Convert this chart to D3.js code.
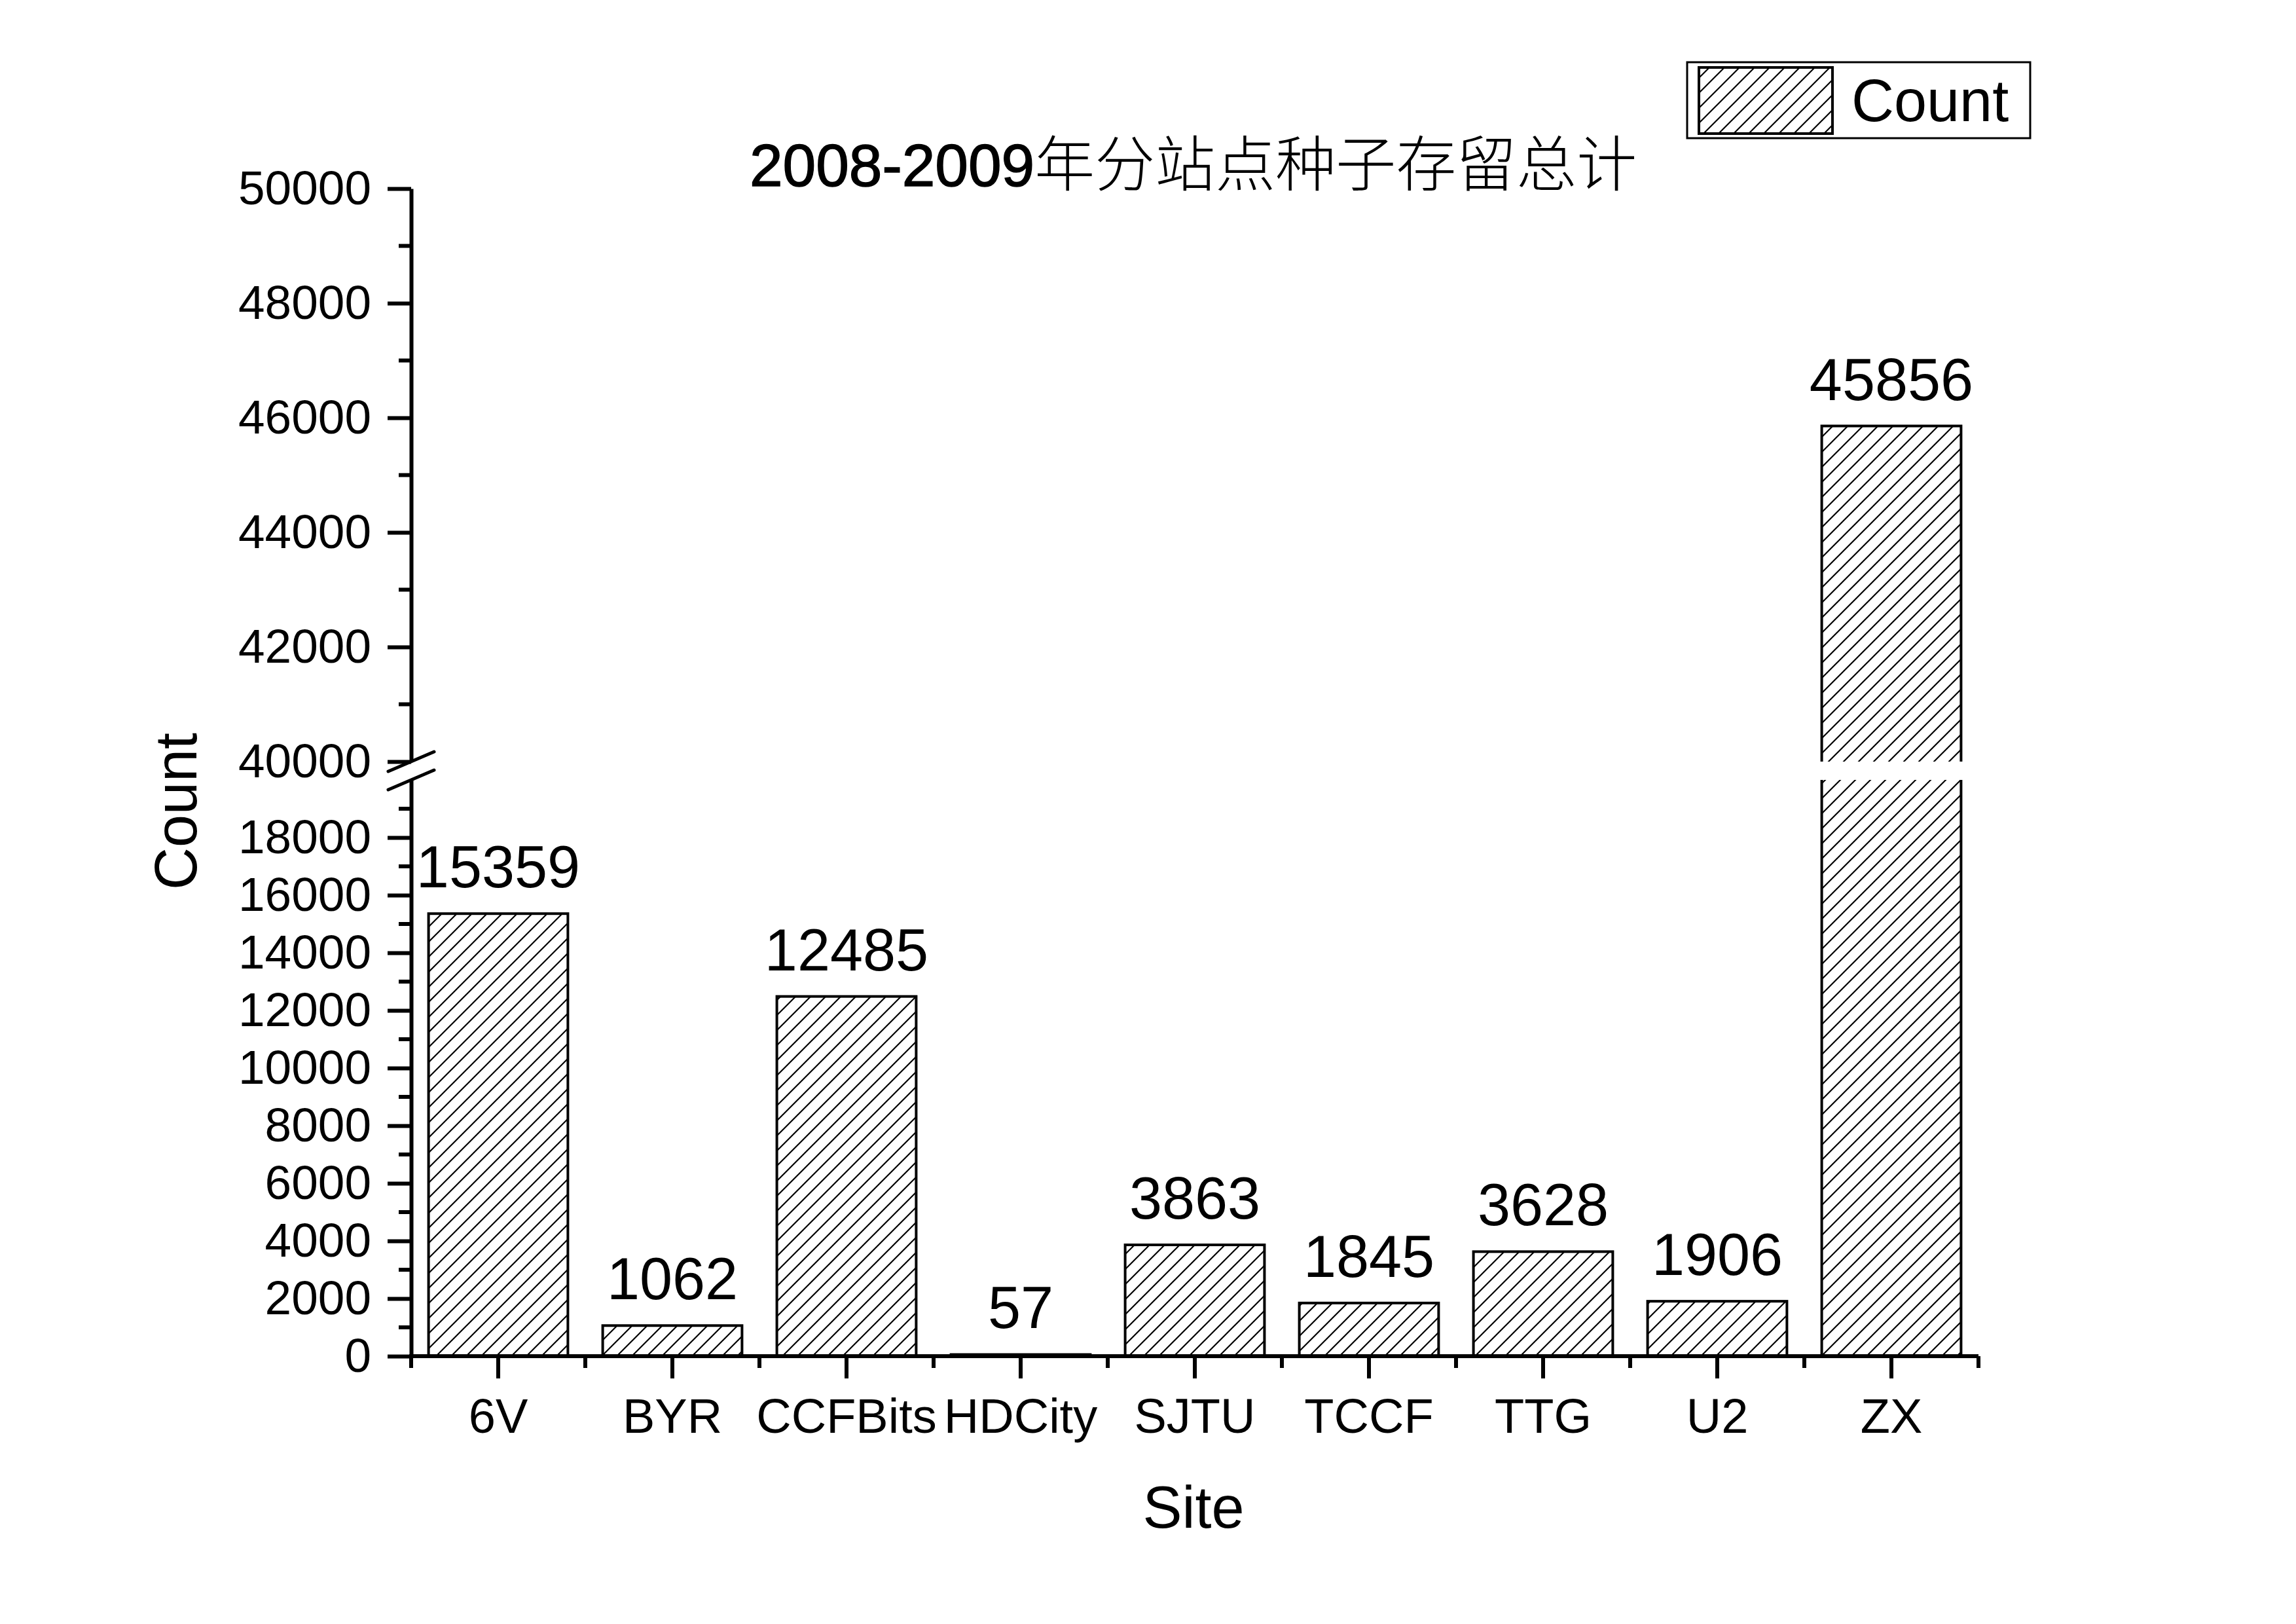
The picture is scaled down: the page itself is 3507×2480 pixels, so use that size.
<!DOCTYPE html>
<html>
<head>
<meta charset="utf-8">
<script src="https://cdn.jsdelivr.net/npm/d3@7"></script>
<style>
  html, body { margin: 0; padding: 0; background: #fff; }
  svg { display: block; }
</style>
</head>
<body>
<script>
// ---- data ----
const categories = ["6V", "BYR", "CCFBits", "HDCity", "SJTU", "TCCF", "TTG", "U2", "ZX"];
const counts = [15359, 1062, 12485, 57, 3863, 1845, 3628, 1906, 45856];
const lowerTicks = [0, 2000, 4000, 6000, 8000, 10000, 12000, 14000, 16000, 18000];
const upperTicks = [40000, 42000, 44000, 46000, 48000, 50000];
const titleNum = "2008-2009";
const titleCJK = "年分站点种子存留总计";
const seriesName = "Count";
const xTitle = "Site";
const yTitle = "Count";

const W = 3507, H = 2480;
const FONT = "'Liberation Sans', Arial, sans-serif";

const svg = d3.select("body").append("svg")
  .attr("width", W).attr("height", H)
  .style("font-family", FONT);

svg.append("rect").attr("width", W).attr("height", H).attr("fill", "#fff");

// hatch pattern
const defs = svg.append("defs");
const hs = 23;
const pat = defs.append("pattern")
  .attr("id", "hatch").attr("patternUnits", "userSpaceOnUse")
  .attr("width", hs).attr("height", hs);
pat.append("path")
  .attr("d", `M-2,2 L2,-2 M0,${hs} L${hs},0 M${hs-2},${hs+2} L${hs+2},${hs-2}`)
  .attr("stroke", "#000").attr("stroke-width", 2.2).attr("fill", "none");

// scales
const x = d3.scaleBand().domain(categories).range([628, 3022]).paddingInner(0.2).paddingOuter(0.1);
const yLow = d3.scaleLinear().domain([0, 20000]).range([2071, 1191]);
const yHigh = d3.scaleLinear().domain([40000, 50000]).range([1163, 288]);
const breakLow = 20000, breakHigh = 40000;

// bars
const bars = svg.append("g");
categories.forEach((c, i) => {
  const v = counts[i];
  const x0 = x(c), bw = x.bandwidth(), x1 = x0 + bw;
  if (v <= breakLow) {
    const yt = yLow(v);
    bars.append("rect").attr("x", x0).attr("y", yt).attr("width", bw).attr("height", yLow(0) - yt)
      .attr("fill", "url(#hatch)").attr("stroke", "#000").attr("stroke-width", 4);
  } else {
    const yt = yHigh(v);
    bars.append("rect").attr("x", x0).attr("y", yLow(breakLow)).attr("width", bw)
      .attr("height", yLow(0) - yLow(breakLow)).attr("fill", "url(#hatch)");
    bars.append("path")
      .attr("d", `M${x0},${yLow(breakLow)} L${x0},${yLow(0)} L${x1},${yLow(0)} L${x1},${yLow(breakLow)}`)
      .attr("fill", "none").attr("stroke", "#000").attr("stroke-width", 4);
    bars.append("rect").attr("x", x0).attr("y", yt).attr("width", bw)
      .attr("height", yHigh(breakHigh) - yt).attr("fill", "url(#hatch)");
    bars.append("path")
      .attr("d", `M${x0},${yHigh(breakHigh)} L${x0},${yt} L${x1},${yt} L${x1},${yHigh(breakHigh)}`)
      .attr("fill", "none").attr("stroke", "#000").attr("stroke-width", 4);
  }
});

// value labels
const yOf = v => v <= breakLow ? yLow(v) : yHigh(v);
svg.append("g").selectAll("text").data(categories).join("text")
  .attr("x", c => x(c) + x.bandwidth() / 2)
  .attr("y", (c, i) => yOf(counts[i]) - 40)
  .attr("text-anchor", "middle")
  .attr("font-size", 90)
  .text((c, i) => counts[i]);

// y axes
const axStroke = 6;
function minorRange(a, b, step) { const r = []; for (let v = a; v <= b; v += step) r.push(v); return r; }
const fmt = d3.format("d");

const gLow = svg.append("g").attr("transform", "translate(628,0)")
  .call(d3.axisLeft(yLow).tickValues(lowerTicks).tickFormat(fmt).tickSize(36).tickPadding(25).tickSizeOuter(0));
const gHigh = svg.append("g").attr("transform", "translate(628,0)")
  .call(d3.axisLeft(yHigh).tickValues(upperTicks).tickFormat(fmt).tickSize(36).tickPadding(25).tickSizeOuter(0));
[gLow, gHigh].forEach(g => {
  g.select(".domain").attr("stroke-width", axStroke);
  g.selectAll(".tick line").attr("stroke-width", axStroke);
  g.selectAll(".tick text").attr("font-size", 73).attr("font-family", FONT).attr("fill", "#000");
});
const minorLow = minorRange(1000, 19000, 2000);
const minorHigh = minorRange(41000, 49000, 2000);
svg.append("g").selectAll("line").data(minorLow.map(v => yLow(v)).concat(minorHigh.map(v => yHigh(v)))).join("line")
  .attr("x1", 609).attr("x2", 628).attr("y1", d => d).attr("y2", d => d)
  .attr("stroke", "#000").attr("stroke-width", axStroke);

// axis break marks
const bk = svg.append("g").attr("stroke", "#000").attr("stroke-width", 5).attr("stroke-linecap", "round");
[yHigh(breakHigh), yLow(breakLow)].forEach(yy => {
  bk.append("line").attr("x1", 593).attr("y1", yy + 15).attr("x2", 663).attr("y2", yy - 15);
});

// x axis
const gx = svg.append("g").attr("transform", `translate(0,${yLow(0)})`)
  .call(d3.axisBottom(x).tickSize(34).tickPadding(30).tickSizeOuter(0));
gx.select(".domain").attr("stroke-width", axStroke).attr("d", `M${x.range()[0] - 3},0H${x.range()[1]}`);
gx.selectAll(".tick line").attr("stroke-width", axStroke);
gx.selectAll(".tick text").attr("font-size", 74).attr("font-family", FONT).attr("fill", "#000");
const step = x.step();
const bounds = d3.range(categories.length + 1).map(i => x.range()[0] + i * step);
svg.append("g").selectAll("line").data(bounds).join("line")
  .attr("x1", d => d).attr("x2", d => d).attr("y1", yLow(0)).attr("y2", yLow(0) + 18)
  .attr("stroke", "#000").attr("stroke-width", axStroke);

// axis titles
svg.append("text").attr("x", 1823).attr("y", 2333).attr("text-anchor", "middle")
  .attr("font-size", 90).text(xTitle);
svg.append("text").attr("transform", "translate(300,1239) rotate(-90)").attr("text-anchor", "middle")
  .attr("font-size", 90).text(yTitle);

// title
const t = svg.append("text").attr("x", 1145).attr("y", 284);
t.append("tspan").attr("font-size", 91).attr("stroke", "#000").attr("stroke-width", 1.5).text(titleNum);
t.append("tspan").attr("font-size", 92).attr("font-family", "'Noto Sans CJK SC', sans-serif")
  .attr("font-weight", 300).text(titleCJK);

// legend
const lg = svg.append("g");
lg.append("rect").attr("x", 2577).attr("y", 95).attr("width", 524).attr("height", 116)
  .attr("fill", "#fff").attr("stroke", "#000").attr("stroke-width", 3);
lg.append("rect").attr("x", 2595).attr("y", 103).attr("width", 204).attr("height", 101)
  .attr("fill", "url(#hatch)").attr("stroke", "#000").attr("stroke-width", 4);
lg.append("text").attr("x", 2828).attr("y", 185).attr("font-size", 90).text(seriesName);
</script>
</body>
</html>
